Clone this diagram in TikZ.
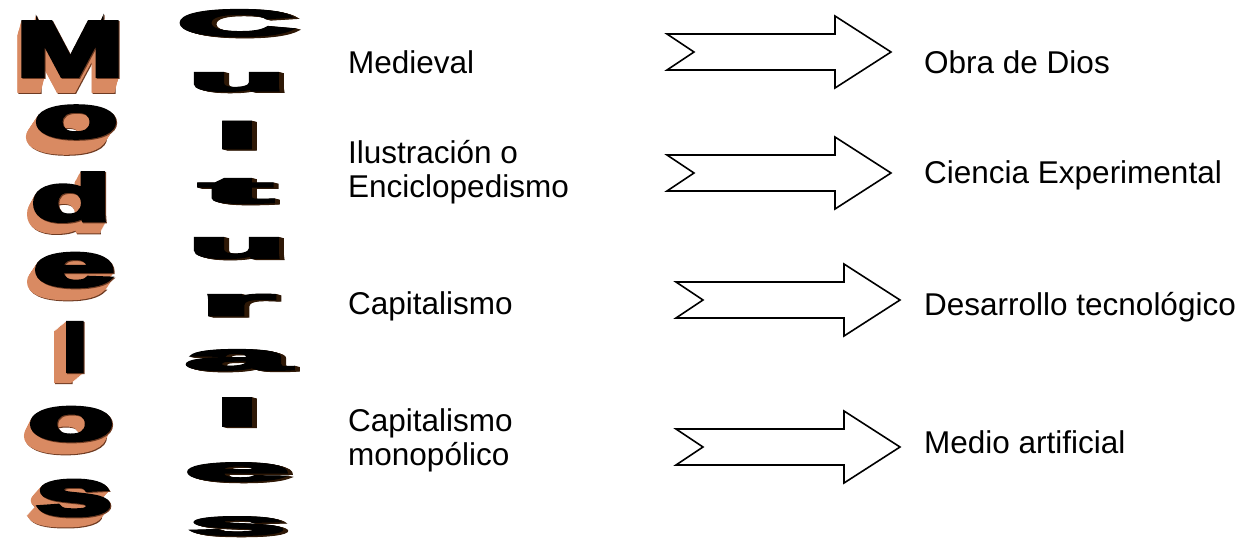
\documentclass[tikz,border=0pt]{standalone}
\usepackage{fontspec}
\usepackage{graphicx}
\setmainfont{Liberation Sans}
\newfontfamily\wafont[FakeBold=5]{Liberation Sans Bold}
\definecolor{cobre}{HTML}{D98A62}
\definecolor{cobreosc}{HTML}{6E3B22}
\definecolor{cafe}{HTML}{2E1806}

\newcommand{\letra}[3]{\resizebox{#2pt}{#3pt}{\wafont #1}}
% letra con relieve cobre: nombre, letra, cx, cy, ancho, alto, dx, dy
\newcommand{\modelo}[8]{%
  \node[wa, text=cobreosc] at ({#3+#7+1},{#4+#8+1}) {\letra{#2}{#5}{#6}};
  \foreach \k in {#8,...,1}
    \node[wa, text=cobre] at ({#3+#7*\k/#8},{#4+\k}) {\letra{#2}{#5}{#6}};
  \node[wa, text=cobreosc] at (#3+1,#4+1) {\letra{#2}{#5}{#6}};
  \node[wa] (#1) at (#3,#4) {\letra{#2}{#5}{#6}};
}
% letra estirada con sombra cafe: nombre, letra, cx, cy, ancho, alto
\newcommand{\cultural}[6]{%
  \foreach \k in {5,...,1}
    \node[wa, text=cafe] at ({#3+\k},{#4+\k/4}) {\letra{#2}{#5}{#6}};
  \node[wa] (#1) at (#3,#4) {\letra{#2}{#5}{#6}};
}

\begin{document}
\begin{tikzpicture}[x=1pt, y=-1pt,
    wa/.style={inner sep=0pt, text=black},
    etiqueta/.style={anchor=base west, inner sep=0pt, align=left,
      font=\fontsize{31.5}{34}\selectfont},
    linea/.style={draw=black, line width=1.6pt, line join=miter, fill=white},
    flecha/.pic={\path[linea] (0,-18) -- (168,-18) -- (168,-36) -- (224,0)
      -- (168,36) -- (168,18) -- (0,18) -- (27,0) -- cycle;}]
    \useasboundingbox (0,0) rectangle (1249,544);

    \modelo{M}{M}{70}{49}{108}{54}{-4}{15}
    \modelo{o1}{o}{76}{122}{84}{32}{-10}{15}
    \modelo{d}{d}{71}{197}{80}{48}{-6}{11}
    \modelo{e}{e}{74}{270}{82}{33}{-8}{12}
    \modelo{l}{l}{75}{347}{26}{49}{-12}{10}
    \modelo{o2}{o}{71}{424}{86}{33}{-6}{12}
    \modelo{s}{s}{74}{498}{77}{35}{-9}{10}

    \cultural{C}{C}{236}{23}{118}{26}
    \cultural{u1}{u}{237}{82}{98}{18}
    \cultural{l1}{l}{237}{135}{44}{27}
    \cultural{t}{t}{236}{191}{72}{24}
    \cultural{u2}{u}{237}{248}{98}{20}
    \cultural{r}{r}{237}{305}{75}{21}
    \cultural{a}{a}{237}{360}{104}{20}
    \cultural{l2}{l}{237}{412}{44}{28}
    \cultural{e2}{e}{237}{472}{105}{18}
    \cultural{s2}{s}{237}{526}{98}{18}

    \node[etiqueta] (medieval) at (348,73) {Medieval};
    \node[etiqueta] (ilustracion) at (348,197) {Ilustración o\\Enciclopedismo};
    \node[etiqueta] (capitalismo) at (348,314) {Capitalismo};
    \node[etiqueta] (monopolico) at (348,465) {Capitalismo\\monopólico};

    \pic (flecha1) at (667,52) {flecha};
    \pic (flecha2) at (667,173) {flecha};
    \pic (flecha3) at (676,300) {flecha};
    \pic (flecha4) at (676,447) {flecha};

    \node[etiqueta] (obra) at (924,73) {Obra de Dios};
    \node[etiqueta] (ciencia) at (924,183) {Ciencia Experimental};
    \node[etiqueta] (desarrollo) at (924,315) {Desarrollo tecnológico};
    \node[etiqueta] (medio) at (924,453) {Medio artificial};
\end{tikzpicture}
\end{document}
